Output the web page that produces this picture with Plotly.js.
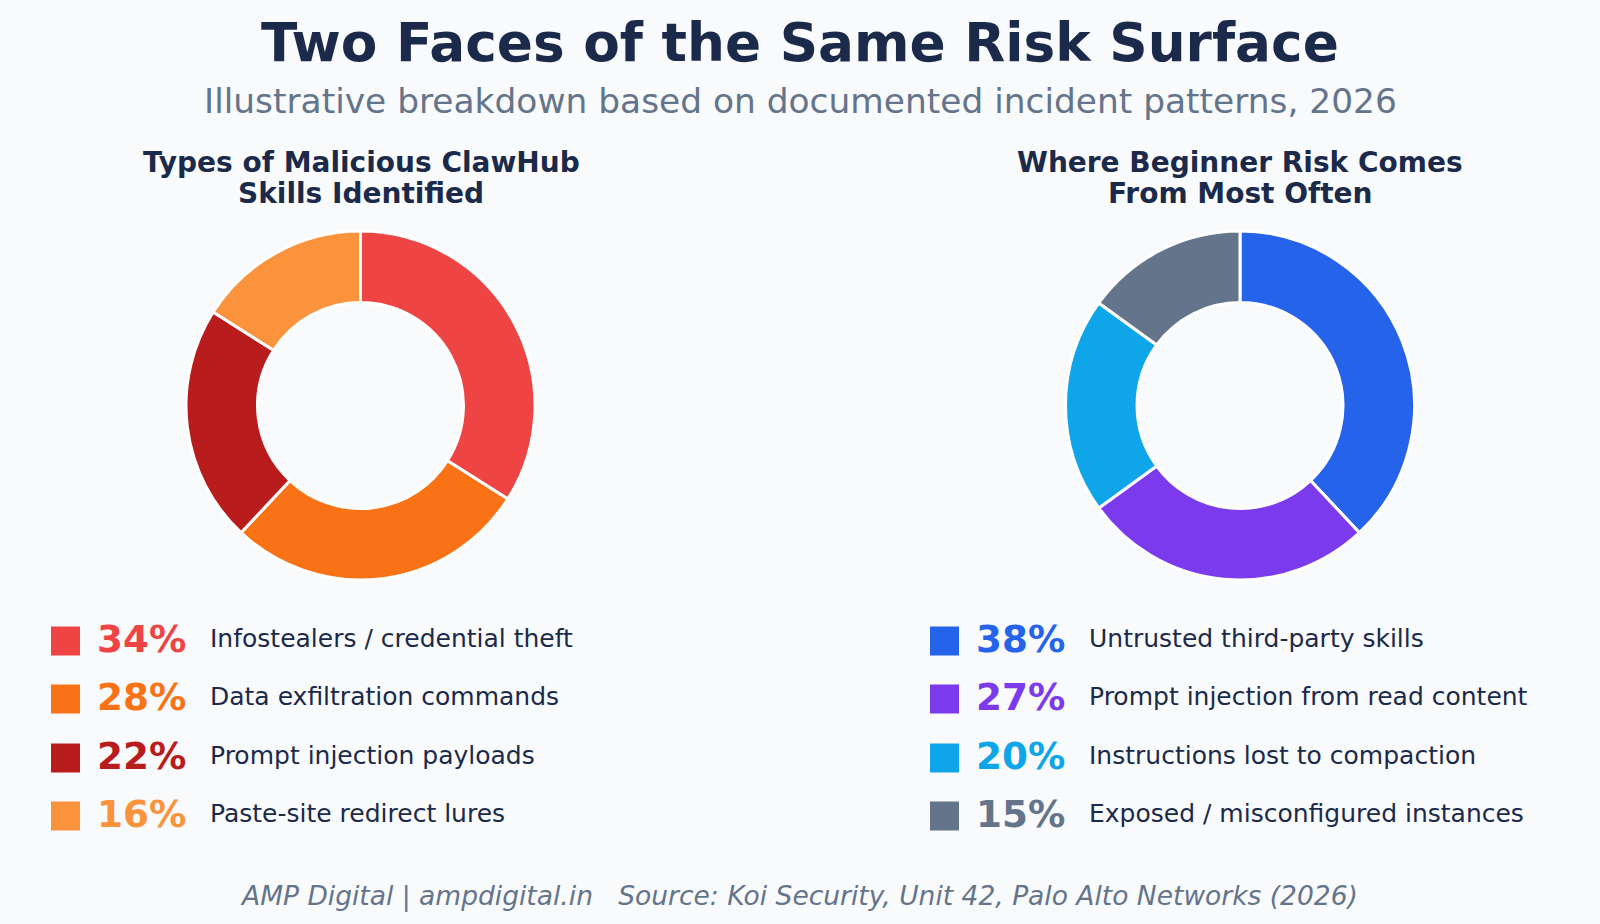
<!DOCTYPE html>
<html>
<head>
<meta charset="utf-8">
<script src="https://cdn.plot.ly/plotly-3.0.1.min.js"></script>
<style>
  html, body { margin: 0; padding: 0; background: #f9fafb; }
  #chart { width: 1600px; height: 924px; }
</style>
</head>
<body>
<div id="chart"></div>
<script>
// ---- Data ----
const leftTitleLines = ["Types of Malicious ClawHub", "Skills Identified"];
const leftLabels = ["Infostealers / credential theft", "Data exfiltration commands", "Prompt injection payloads", "Paste-site redirect lures"];
const leftValues = [34, 28, 22, 16];
const leftColors = ["#ef4444", "#f97316", "#b91c1c", "#fb923c"];

const rightTitleLines = ["Where Beginner Risk Comes", "From Most Often"];
const rightLabels = ["Untrusted third-party skills", "Prompt injection from read content", "Instructions lost to compaction", "Exposed / misconfigured instances"];
const rightValues = [38, 27, 20, 15];
const rightColors = ["#2563eb", "#7c3aed", "#0ea5e9", "#64748b"];

const mainTitle = "Two Faces of the Same Risk Surface";
const subTitle = "Illustrative breakdown based on documented incident patterns, 2026";
const footer = "AMP Digital | ampdigital.in\u00a0\u00a0\u00a0Source: Koi Security, Unit 42, Palo Alto Networks (2026)";

// ---- Layout helpers ----
const W = 1600, H = 924;
const px = x => x / W;
const py = y => 1 - y / H;
const FONT = "DejaVu Sans, Verdana, sans-serif";
const NAVY = "#1b2a4a";
const GREY = "#64748b";

function pieTrace(labels, values, colors, cx) {
  const r = 174.5, cy = 405.5;
  return {
    type: "pie",
    labels: labels,
    values: values,
    marker: { colors: colors, line: { color: "#ffffff", width: 3 } },
    hole: 0.59,
    sort: false,
    direction: "clockwise",
    rotation: 0,
    textinfo: "none",
    hoverinfo: "label+percent",
    showlegend: false,
    domain: { x: [px(cx - r), px(cx + r)], y: [py(cy + r), py(cy - r)] }
  };
}

const data = [
  pieTrace(leftLabels, leftValues, leftColors, 360.5),
  pieTrace(rightLabels, rightValues, rightColors, 1240)
];

const annotations = [];
const shapes = [];

function ann(text, x, y, size, color, opts) {
  annotations.push(Object.assign({
    text: text, x: px(x), y: py(y), xref: "paper", yref: "paper",
    showarrow: false, xanchor: "center", yanchor: "middle",
    font: { family: FONT, size: size, color: color }
  }, opts || {}));
}

ann("<b>" + mainTitle + "</b>", 800, 43, 53.3, NAVY);
ann(subTitle, 800, 101, 34.4, GREY);

leftTitleLines.forEach((t, i) => ann("<b>" + t + "</b>", 361, 162 + i * 31, 28, NAVY));
rightTitleLines.forEach((t, i) => ann("<b>" + t + "</b>", 1240, 162 + i * 31, 28, NAVY));

function legend(labels, values, colors, sqX, pctX, lblX) {
  const rowY = [641, 699, 758, 816];
  labels.forEach((lab, i) => {
    const cy = rowY[i];
    shapes.push({
      type: "rect", xref: "paper", yref: "paper",
      x0: px(sqX), x1: px(sqX + 29), y0: py(cy + 14.5), y1: py(cy - 14.5),
      fillcolor: colors[i], line: { width: 0 }
    });
    ann("<b>" + values[i] + "%</b>", pctX, cy - 2.5, 37.3, colors[i], { xanchor: "left" });
    ann(lab, lblX, cy - 2.5, 25, NAVY, { xanchor: "left" });
  });
}
legend(leftLabels, leftValues, leftColors, 51, 95, 208);
legend(rightLabels, rightValues, rightColors, 930, 974, 1087);

ann("<i>" + footer + "</i>", 799, 896, 26.5, GREY);

const layout = {
  width: W, height: H,
  margin: { l: 0, r: 0, t: 0, b: 0 },
  paper_bgcolor: "#f9fafb",
  plot_bgcolor: "#f9fafb",
  showlegend: false,
  annotations: annotations,
  shapes: shapes,
  font: { family: FONT }
};

Plotly.newPlot("chart", data, layout, { displayModeBar: false, staticPlot: true });
</script>
</body>
</html>
